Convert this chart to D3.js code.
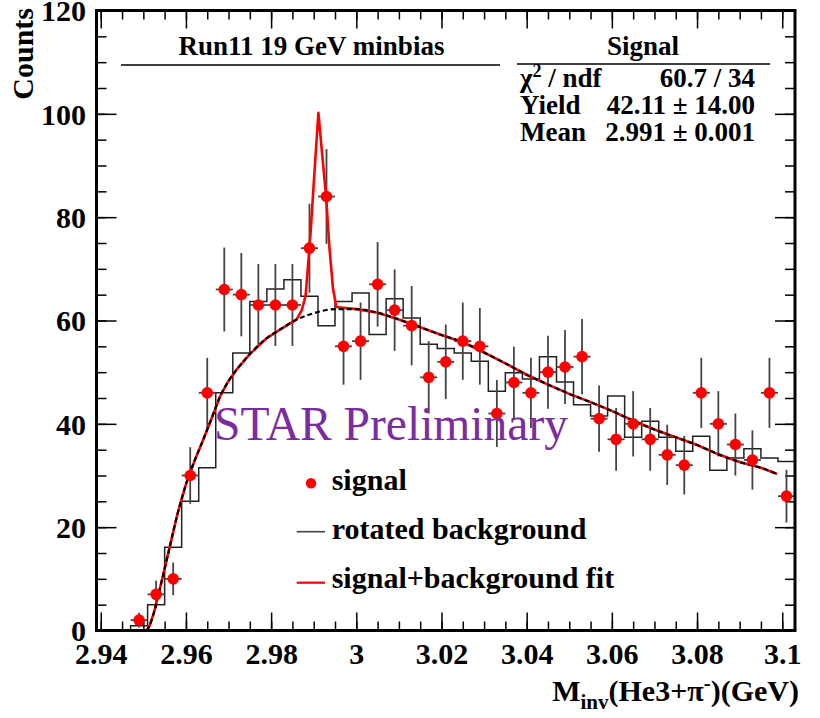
<!DOCTYPE html>
<html><head><meta charset="utf-8">
<script src="https://cdn.jsdelivr.net/npm/d3@7"></script>
<style>
body{margin:0;background:#fff}
svg text{font-family:"Liberation Serif","Times New Roman",serif;font-weight:bold;fill:#000}
</style>
</head><body>
<svg id="c" width="820" height="718"></svg>
<script>
// ---------------- data ----------------
const binWidth = 0.004;
const binLowEdges = [2.939,2.943,2.947,2.951,2.955,2.959,2.963,2.967,2.971,2.975,2.979,2.983,2.987,2.991,2.995,2.999,3.003,3.007,3.011,3.015,3.019,3.023,3.027,3.031,3.035,3.039,3.043,3.047,3.051,3.055,3.059,3.063,3.067,3.071,3.075,3.079,3.083,3.087,3.091,3.095,3.099];
const rotatedBackground = [0,0,0.9,5.0,16.1,25.0,31.5,46.0,53.7,63.7,66.1,67.9,64.7,59.0,63.7,65.3,57.3,64.2,60.5,55.4,54.6,53.7,52.1,46.3,49.9,48.7,53.0,48.1,43.7,41.5,45.4,37.4,40.5,37.4,34.7,37.6,31.0,33.4,35.2,33.4,32.7];

const signalCenters = [2.949,2.953,2.957,2.961,2.965,2.969,2.973,2.977,2.981,2.985,2.989,2.993,2.997,3.001,3.005,3.009,3.013,3.017,3.021,3.025,3.029,3.033,3.037,3.041,3.045,3.049,3.053,3.057,3.061,3.065,3.069,3.073,3.077,3.081,3.085,3.089,3.093,3.097,3.101];
const signalCounts = [2,7,10,30,46,66,65,63,63,63,74,84,55,56,67,62,59,49,52,56,55,42,48,46,50,51,53,41,37,40,37,34,32,46,40,36,33,46,26];

const bkgFitX = [2.9508,2.9515,2.9525,2.954,2.956,2.958,2.960,2.962,2.964,2.966,2.968,2.970,2.972,2.975,2.979,2.982,2.986,2.990,2.995,3.000,3.005,3.010,3.015,3.020,3.025,3.030,3.035,3.040,3.045,3.050,3.055,3.060,3.065,3.070,3.075,3.080,3.085,3.090,3.095,3.0988];
const bkgFitY = [0,1,3.5,8.5,15.5,22.5,28.3,32.8,36.8,41.0,45.3,48.3,50.6,53.5,56.6,58.2,60.2,61.4,62.2,62.2,61.5,60.2,58.7,57.2,55.8,53.8,51.7,49.5,47.6,45.8,44.2,42.5,40.6,38.9,37.4,35.9,34.1,32.6,31.5,30.3];

const sbFitX = [2.9508,2.9515,2.9525,2.954,2.956,2.958,2.960,2.962,2.964,2.966,2.968,2.970,2.972,2.975,2.979,2.982,2.986,2.9872,2.9881,2.9887,2.9893,2.9902,2.9911,2.9920,2.9929,2.9937,2.9945,2.9953,3.000,3.005,3.010,3.015,3.020,3.025,3.030,3.035,3.040,3.045,3.050,3.055,3.060,3.065,3.070,3.075,3.080,3.085,3.090,3.095,3.0988];
const sbFitY = [0,1,3.5,8.5,15.5,22.5,28.3,32.8,36.8,41.0,45.3,48.3,50.6,53.5,56.6,58.2,60.2,62.0,64.8,71.0,77.5,89.0,100.2,92.0,84.0,74.0,66.4,62.6,62.2,61.5,60.2,58.7,57.2,55.8,53.8,51.7,49.5,47.6,45.8,44.2,42.5,40.6,38.9,37.4,35.9,34.1,32.6,31.5,30.3];

const xMajorTicks = [2.94,2.96,2.98,3,3.02,3.04,3.06,3.08,3.1];
const xTickLabels = ["2.94","2.96","2.98","3","3.02","3.04","3.06","3.08","3.1"];
const yMajorTicks = [0,20,40,60,80,100,120];
const yTickLabels = ["0","20","40","60","80","100","120"];

const legendLabels = ["signal","rotated background","signal+background fit"];
const statsTitle = "Signal";
const statsRows = [["χ2 / ndf","60.7 / 34"],["Yield","42.11 ± 14.00"],["Mean","2.991 ± 0.001"]];

// ---------------- layout ----------------
const L = 96.5, R = 795, T = 10.5, B = 630.5;
const svg = d3.select("#c");
const x = d3.scaleLinear().domain([2.939, 3.103]).range([L, R]);
const y = d3.scaleLinear().domain([0, 120]).range([B, T]);

const xMinor = d3.range(0, 33).map(i => +(2.94 + i*0.005).toFixed(3)).filter(v => v <= 3.103);
const yMinor = d3.range(0, 25).map(i => i*5);

function styleAxis(g){ g.select(".domain").remove(); g.selectAll("line").attr("stroke","#000").attr("stroke-width",1.5); }

// bottom
svg.append("g").attr("transform",`translate(0,${B})`)
  .call(d3.axisBottom(x).tickValues(xMinor).tickSize(-9).tickFormat("")).call(styleAxis);
svg.append("g").attr("transform",`translate(0,${B})`)
  .call(d3.axisBottom(x).tickValues(xMajorTicks).tickSize(-18).tickPadding(12.5)
     .tickFormat((d,i)=>xTickLabels[i])).call(styleAxis)
  .selectAll("text").attr("font-size",30).attr("font-family",null).style("font-weight","bold");
// top
svg.append("g").attr("transform",`translate(0,${T})`)
  .call(d3.axisTop(x).tickValues(xMinor).tickSize(-9).tickFormat("")).call(styleAxis);
svg.append("g").attr("transform",`translate(0,${T})`)
  .call(d3.axisTop(x).tickValues(xMajorTicks).tickSize(-18).tickFormat("")).call(styleAxis);
// left
svg.append("g").attr("transform",`translate(${L},0)`)
  .call(d3.axisLeft(y).tickValues(yMinor).tickSize(-10).tickFormat("")).call(styleAxis);
svg.append("g").attr("transform",`translate(${L},0)`)
  .call(d3.axisLeft(y).tickValues(yMajorTicks).tickSize(-20).tickPadding(10.5)
     .tickFormat((d,i)=>yTickLabels[i])).call(styleAxis)
  .selectAll("text").attr("font-size",30).attr("font-family",null).attr("dy","0.34em");
// right
svg.append("g").attr("transform",`translate(${R},0)`)
  .call(d3.axisRight(y).tickValues(yMinor).tickSize(-10).tickFormat("")).call(styleAxis);
svg.append("g").attr("transform",`translate(${R},0)`)
  .call(d3.axisRight(y).tickValues(yMajorTicks).tickSize(-20).tickFormat("")).call(styleAxis);

// ---------------- histogram (rotated background) ----------------
const histPts = binLowEdges.map((e,i)=>[e, rotatedBackground[i]]);
histPts.push([binLowEdges[binLowEdges.length-1]+binWidth, rotatedBackground[rotatedBackground.length-1]]);
svg.append("path").attr("d", d3.line().x(d=>x(d[0])).y(d=>y(d[1])).curve(d3.curveStepAfter)(histPts))
  .attr("fill","none").attr("stroke","#222").attr("stroke-width",1.5);

// ---------------- error bars ----------------
const eb = svg.append("g").attr("stroke","#444").attr("stroke-width",1.8);
signalCenters.forEach((c,i)=>{
  const n = signalCounts[i], e = Math.sqrt(n);
  eb.append("line").attr("x1",x(c)).attr("x2",x(c)).attr("y1",y(Math.max(0,n-e))).attr("y2",y(n+e));
  eb.append("line").attr("x1",x(c-binWidth/2)).attr("x2",x(c+binWidth/2)).attr("y1",y(n)).attr("y2",y(n));
});

// ---------------- fits ----------------
svg.append("path").attr("d", d3.line().x((d,i)=>x(sbFitX[i])).y(d=>y(d)).curve(d3.curveLinear)(sbFitY))
  .attr("fill","none").attr("stroke","#ff0000").attr("stroke-width",2.6).attr("stroke-linejoin","round");
svg.append("path").attr("d", d3.line().x((d,i)=>x(bkgFitX[i])).y(d=>y(d)).curve(d3.curveMonotoneX)(bkgFitY))
  .attr("fill","none").attr("stroke","#000").attr("stroke-width",2.2).attr("stroke-dasharray","5,3");

// ---------------- markers ----------------
svg.append("g").selectAll("circle").data(signalCounts).join("circle")
  .attr("cx",(d,i)=>x(signalCenters[i])).attr("cy",d=>y(d)).attr("r",5.8).attr("fill","#ff0000");

// ---------------- frame ----------------
svg.append("rect").attr("x",L).attr("y",T).attr("width",R-L).attr("height",B-T)
  .attr("fill","none").attr("stroke","#000").attr("stroke-width",3);

// ---------------- title / stats ----------------
svg.append("text").attr("x",311.5).attr("y",55).attr("text-anchor","middle").attr("font-size",27).text("Run11 19 GeV minbias");
svg.append("line").attr("x1",121).attr("x2",500).attr("y1",65).attr("y2",65).attr("stroke","#000").attr("stroke-width",1.5);
svg.append("text").attr("x",643).attr("y",55).attr("text-anchor","middle").attr("font-size",27).text(statsTitle);
svg.append("line").attr("x1",517).attr("x2",770).attr("y1",64).attr("y2",64).attr("stroke","#000").attr("stroke-width",1.5);
const rowBase = [87, 114, 141];
statsRows.forEach((r,i)=>{
  const t = svg.append("text").attr("x",520).attr("y",rowBase[i]).attr("font-size",27);
  if (i===0){ t.append("tspan").text("χ"); t.append("tspan").attr("dy",-10).attr("font-size",18).text("2"); t.append("tspan").attr("dy",10).text(" / ndf"); }
  else t.text(r[0]);
  svg.append("text").attr("x",755).attr("y",rowBase[i]).attr("text-anchor","end").attr("font-size",27).text(r[1]);
});

// ---------------- axis titles ----------------
svg.append("text").attr("transform","translate(33,8) rotate(-90)").attr("text-anchor","end").attr("font-size",30).text("Counts");
const xt = svg.append("text").attr("x",799).attr("y",701).attr("text-anchor","end").attr("font-size",30);
xt.append("tspan").text("M");
xt.append("tspan").attr("dy",8).attr("font-size",21).text("inv");
xt.append("tspan").attr("dy",-8).text("(He3+π");
xt.append("tspan").attr("dy",-11).attr("font-size",21).text("-");
xt.append("tspan").attr("dy",11).text(")(GeV)");

// ---------------- STAR Preliminary ----------------
svg.append("text").attr("x",214).attr("y",440).attr("font-size",48).style("font-weight","normal")
  .style("fill","#7a2ca0").attr("textLength",354).attr("lengthAdjust","spacingAndGlyphs").text("STAR Preliminary");

// ---------------- legend ----------------
svg.append("circle").attr("cx",311).attr("cy",483.3).attr("r",5.2).attr("fill","#ff0000");
svg.append("line").attr("x1",296.7).attr("x2",325).attr("y1",531.7).attr("y2",531.7).attr("stroke","#444").attr("stroke-width",1.6);
svg.append("line").attr("x1",296.7).attr("x2",325).attr("y1",582.7).attr("y2",582.7).attr("stroke","#ff0000").attr("stroke-width",2.2);
[490, 539.3, 588.3].forEach((b,i)=>{
  svg.append("text").attr("x",331.7).attr("y",b).attr("font-size",30).text(legendLabels[i]);
});
</script>
</body></html>
